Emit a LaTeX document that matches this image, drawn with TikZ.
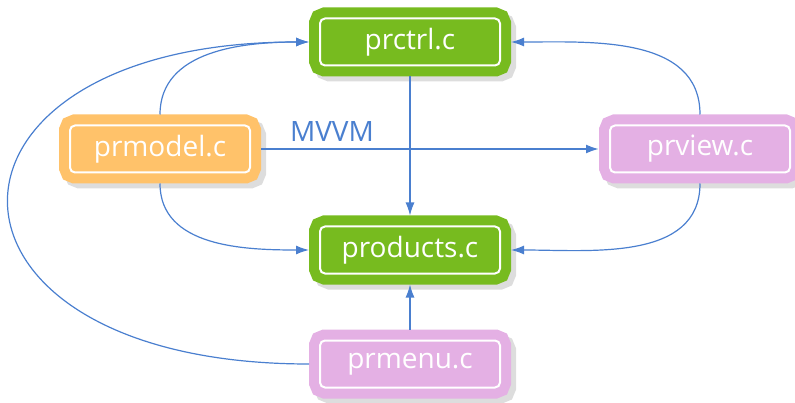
\documentclass[tikz,border=0pt]{standalone}
\usepackage{fontspec}
\setmainfont{Open Sans}
\usetikzlibrary{arrows.meta,positioning,shadows}
\definecolor{prgreen}{HTML}{77BB1F}
\definecolor{prorange}{HTML}{FFC26A}
\definecolor{prpink}{HTML}{E4B0E4}
\definecolor{prblue}{HTML}{4A7FCF}
\definecolor{prshadow}{HTML}{DDDDDD}
\begin{document}
\begin{tikzpicture}[x=1pt, y=1pt, font=\fontsize{28}{32}\selectfont, >={Latex[length=13pt, width=9pt]},
file/.style={rounded corners=5pt, line width=10pt, double=white, double distance=2pt, outer sep=11pt, minimum width=180pt, minimum height=47pt, inner sep=0pt, text=white,
drop shadow={shadow xshift=5pt, shadow yshift=-5pt, fill=prshadow, draw=prshadow, line width=22pt, opacity=1}},
core/.style={file, draw=prgreen, fill=prgreen},
model/.style={file, draw=prorange, fill=prorange},
view/.style={file, draw=prpink, fill=prpink},
link/.style={->, draw=prblue, line width=1.2pt}]
\useasboundingbox (0,0) rectangle (795,402);
\node[core] (prctrl) at (410,360) {prctrl.c};
\node[core, below=139pt of prctrl] (products) {products.c};
\node[view, below=45pt of products] (prmenu) {prmenu.c};
\node[model] (prmodel) at (160,253) {prmodel.c};
\node[view] (prview) at (700,253) {prview.c};
\draw[link] (prctrl) -- (products);
\draw[link] (prmenu) -- (products);
\draw[link] (prmodel.north) to[out=90, in=180] (prctrl.west);
\draw[link] (prmodel.south) to[out=-90, in=180] (products.west);
\draw[link] (prview.north) to[out=90, in=0] (prctrl.east);
\draw[link] (prview.south) to[out=-90, in=0] (products.east);
\draw[link] (prmenu.west) .. controls +(-400,0) and +(-400,0) .. (prctrl.west);
\draw[link, line width=2pt] (prmodel) -- node[pos=0.21, above, yshift=3pt, text=prblue] (mvvm) {MVVM} (prview);
\end{tikzpicture}
\end{document}
